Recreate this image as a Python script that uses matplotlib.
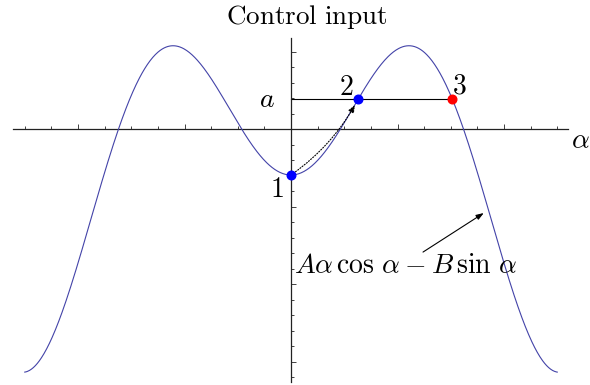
import numpy as np
import matplotlib
matplotlib.use("Agg")
import matplotlib.pyplot as plt
from matplotlib.ticker import FixedLocator

plt.rcParams["mathtext.fontset"] = "cm"
plt.rcParams["font.family"] = ["DejaVu Serif"]

# curve u(alpha) = C0 + C1*cos(alpha) + C2*alpha*sin(alpha), plotted on [-5, 5]
ALPHA_RANGE = (-5.0, 5.0)
C0, C1, C2 = -1.015, -1.953, 2.944

# level "a" and the three marked states on the curve
A_LEVEL = 1.935
point_alpha = [0.0, 1.265, 3.03]
point_color = ["#0000ff", "#0000ff", "#ff0000"]
point_label = ["1", "2", "3"]

# tick positions along the two axes (no labels)
x_major = [-4, -2, 2, 4]
x_minor = [v / 2 for v in range(-10, 11) if v % 4 != 0]
y_major = [-15, -10, -5, 5]
y_minor = [v for v in range(-16, 6) if v % 5 != 0]

CURVE_COL = "#4343a8"


def u(alpha):
    alpha = np.asarray(alpha, float)
    return C0 + C1 * np.cos(alpha) + C2 * alpha * np.sin(alpha)


fig = plt.figure(figsize=(5.9, 3.85), dpi=100)
ax = fig.add_axes([0, 0, 1, 1])
ax.set_xlim(-5.465, 5.615)
ax.set_ylim(-16.516, 8.323)

# axes through the origin, ticks only
for side in ("top", "right"):
    ax.spines[side].set_visible(False)
ax.spines["left"].set_position(("data", 0))
ax.spines["bottom"].set_position(("data", 0))
ax.spines["bottom"].set_bounds(-5.22, 5.20)
ax.spines["left"].set_bounds(-16.32, 5.87)
for side in ("left", "bottom"):
    ax.spines[side].set_linewidth(0.9)
    ax.spines[side].set_color("#222222")

ax.xaxis.set_major_locator(FixedLocator(x_major))
ax.xaxis.set_minor_locator(FixedLocator(x_minor))
ax.yaxis.set_major_locator(FixedLocator(y_major))
ax.yaxis.set_minor_locator(FixedLocator(y_minor))
ax.tick_params(which="both", direction="in", labelbottom=False, labelleft=False,
               color="#222222", width=0.6)
ax.tick_params(which="major", length=3.5)
ax.tick_params(which="minor", length=2.0)

alpha = np.linspace(ALPHA_RANGE[0], ALPHA_RANGE[1], 800)
ax.plot(alpha, u(alpha), color=CURVE_COL, lw=0.8, zorder=3)

# level line a from the axis to state 3
ax.plot([0, point_alpha[2]], [A_LEVEL, A_LEVEL], color="black", lw=0.8, zorder=2)

pts_y = u(point_alpha)
for a_, y_, c_ in zip(point_alpha, pts_y, point_color):
    ax.plot(a_, y_, "o", color=c_, markersize=6.2, zorder=5)

# dotted transition 1 -> 2
ax.annotate("", xy=(point_alpha[1], pts_y[1]), xytext=(point_alpha[0], pts_y[0]),
            arrowprops=dict(arrowstyle="-|>,head_length=0.45,head_width=0.18",
                            linestyle=(0, (1, 1.5)), lw=0.8, color="black",
                            connectionstyle="arc3,rad=0.12", shrinkA=2, shrinkB=5),
            zorder=4)

fs = 20
lab_pos = [(-0.263, -4.39), (1.033, 2.19), (3.17, 2.32)]
for (lx, ly), txt in zip(lab_pos, point_label):
    ax.text(lx, ly, "$%s$" % txt, fontsize=fs, ha="center", va="baseline")
ax.text(-0.45, 1.42, r"$a$", fontsize=fs, ha="center", va="baseline")
ax.text(5.25, -1.23, r"$\alpha$", fontsize=fs, ha="left", va="baseline")

ax.text(0.06, -9.29, r"$A\alpha\,\cos\,\alpha-B\,\sin\,\alpha$", fontsize=fs,
        ha="left", va="baseline")
ax.annotate("", xy=(3.62, -5.42), xytext=(2.479, -7.94),
            arrowprops=dict(arrowstyle="-|>,head_length=0.45,head_width=0.16",
                            lw=0.8, color="black", shrinkA=0, shrinkB=0))

fig.text(307 / 590, 1 - 24 / 385, r"$\mathrm{Control\ input}$", fontsize=19.5,
         ha="center", va="baseline")

fig.savefig("out.png", dpi=100)
